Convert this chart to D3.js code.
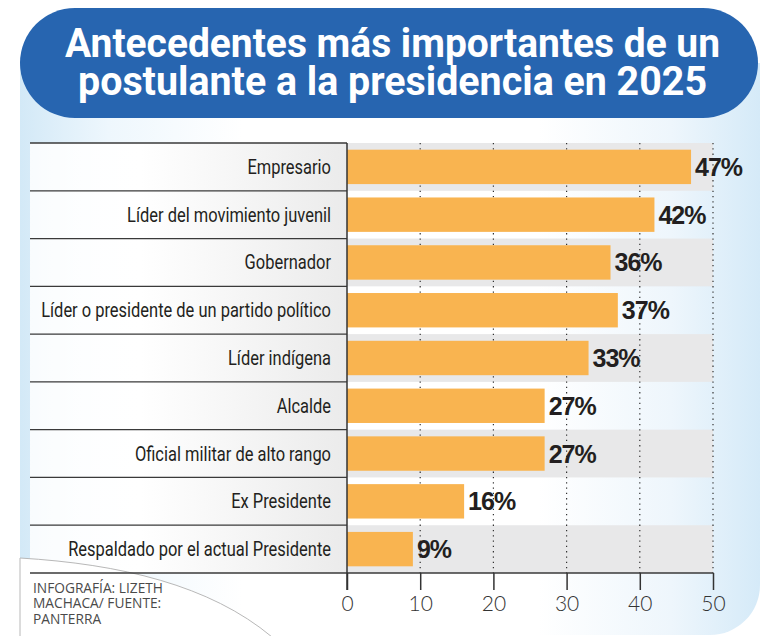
<!DOCTYPE html>
<html><head><meta charset="utf-8">
<script src="https://cdn.jsdelivr.net/npm/d3@7"></script>
<style>html,body{margin:0;padding:0;background:#fff;}svg{display:block;}</style>
</head><body>
<svg id="c" width="760" height="640"></svg>
<script>
const categories = ["Empresario","Líder del movimiento juvenil","Gobernador","Líder o presidente de un partido político","Líder indígena","Alcalde","Oficial militar de alto rango","Ex Presidente","Respaldado por el actual Presidente"];
const values = [47,42,36,37,33,27,27,16,9];
const tickValues = [0,10,20,30,40,50];
const titleLines = ["Antecedentes más importantes de un","postulante a la presidencia en 2025"];
const sourceLines = ["INFOGRAFÍA: LIZETH","MACHACA/ FUENTE:","PANTERRA"];

const svg = d3.select("#c");
const defs = svg.append("defs");

// background gradient
const bg = defs.append("linearGradient").attr("id","bg").attr("x1","0").attr("x2","1").attr("y1","0").attr("y2","0");
[[0,"#d3e9f7"],[0.12,"#eef7fd"],[0.3,"#ffffff"],[0.7,"#ffffff"],[0.88,"#eef6fc"],[1,"#d5eaf8"]].forEach(s=>bg.append("stop").attr("offset",s[0]).attr("stop-color",s[1]));
const rowG = defs.append("linearGradient").attr("id","rowg").attr("x1","0").attr("x2","1");
[[0,"#ffffff",0.85],[0.35,"#ffffff",1],[1,"#ebebeb",1]].forEach(s=>rowG.append("stop").attr("offset",s[0]).attr("stop-color",s[1]).attr("stop-opacity",s[2]));

// panel with rounded bottom-right corner
svg.append("path").attr("d","M20,63 H760 V585 A50,50 0 0 1 710,635 H20 Z").attr("fill","url(#bg)");

// title pill
svg.append("rect").attr("x",20).attr("y",8).attr("width",738).attr("height",110).attr("rx",55).attr("ry",55).attr("fill","#2765b0");
const tWidths=[655,629], tX=[65,78], tY=[57,95];
const title = svg.append("text").attr("font-family","Roboto, 'Liberation Sans', sans-serif").attr("font-weight","700")
    .attr("font-size",40).attr("fill","#fff");
titleLines.forEach((t,i)=>{
  title.append("tspan").text(t).attr("x",tX[i]).attr("y",tY[i])
    .attr("textLength",tWidths[i]).attr("lengthAdjust","spacingAndGlyphs");
});

// scales
const x = d3.scaleLinear().domain([0,50]).range([347,713]);
const y = d3.scaleBand().domain(categories).range([143,573]).padding(0);
const barH = y.bandwidth()*0.72;
const labelLeft = 30;

// row backgrounds
categories.forEach((c,i)=>{
  svg.append("rect").attr("x",labelLeft).attr("y",y(c)).attr("width",x(0)-labelLeft).attr("height",y.bandwidth()).attr("fill","url(#rowg)");
  if(i%2===0) svg.append("rect").attr("x",x(0)).attr("y",y(c)).attr("width",x(50)-x(0)).attr("height",y.bandwidth()).attr("fill","#e8e8e9");
});

// bottom-left source shape
svg.append("path").attr("d","M20,558 C120,564 210,585 272,637 L20,637 Z").attr("fill","#fff").attr("stroke","#b8b8b8").attr("stroke-width",1);
svg.append("rect").attr("x",0).attr("y",636).attr("width",760).attr("height",4).attr("fill","#fff");

// gridlines
svg.append("g").selectAll("line").data(tickValues.slice(1)).join("line")
  .attr("x1",d=>x(d)).attr("x2",d=>x(d)).attr("y1",143).attr("y2",573)
  .attr("stroke","#333").attr("stroke-width",1.2).attr("stroke-dasharray","1.3,4");

// row separator lines in label area
const bounds = categories.map(c=>y(c)).concat([573]);
svg.append("g").selectAll("line").data(bounds).join("line")
  .attr("x1",labelLeft).attr("x2",(d,i)=>i===bounds.length-1?x(50):x(0)).attr("y1",d=>d).attr("y2",d=>d)
  .attr("stroke","#3a3a3a").attr("stroke-width",1.3);

// bars
svg.append("g").selectAll("rect").data(values).join("rect")
  .attr("x",x(0)).attr("y",(d,i)=>y(categories[i])+(y.bandwidth()-barH)/2)
  .attr("width",d=>x(d)-x(0)).attr("height",barH).attr("fill","#f9b450");

// value labels
svg.append("g").selectAll("text").data(values).join("text")
  .text(d=>d+"%").attr("x",d=>x(d)+4).attr("y",(d,i)=>y(categories[i])+y.bandwidth()/2+9)
  .attr("font-family","'Liberation Sans', Arial, sans-serif").attr("font-weight","700")
  .attr("font-size",25).attr("letter-spacing",-1).attr("fill","#231f20");

// category labels (condensed by horizontal scale)
const lg = svg.append("g");
const labs = lg.selectAll("text").data(categories).join("text").text(d=>d)
  .attr("text-anchor","end").attr("font-family","Roboto, 'Open Sans', sans-serif")
  .attr("font-size",20.5).attr("fill","#231f20");
let maxW = 0; labs.each(function(){maxW=Math.max(maxW,this.getComputedTextLength());});
const k = 290/maxW;
labs.attr("transform",d=>`translate(331,${y(d)+y.bandwidth()/2+7}) scale(${k},1)`);

// axis
const axis = d3.axisBottom(x).tickValues(tickValues).tickSize(17).tickPadding(6).tickFormat(d3.format("d"));
const ag = svg.append("g").attr("transform","translate(0,573)").call(axis);
ag.select(".domain").remove();
ag.selectAll(".tick line").attr("stroke","#333").attr("stroke-width",1.5);
ag.selectAll(".tick text").attr("font-family","Lato, 'Open Sans', sans-serif").attr("font-weight","300").attr("font-size",21).attr("fill","#333");
// vertical axis line
svg.append("line").attr("x1",x(0)).attr("x2",x(0)).attr("y1",143).attr("y2",590).attr("stroke","#333").attr("stroke-width",1.5);

// source (one text block with lines as tspans)
const src = svg.append("text").attr("font-family","'Open Sans', sans-serif").attr("font-size",13).attr("fill","#4a4a4a")
  .attr("transform","translate(33,593) scale(1,1.12)");
const spans = src.selectAll("tspan").data(sourceLines).join("tspan").text(d=>d)
  .attr("x",0).attr("y",(d,i)=>i*13.8);
let sw = 0; spans.each(function(){sw=Math.max(sw,this.getComputedTextLength());});
const ks = 130/sw;
src.attr("transform",`translate(33,593) scale(${ks},1.12)`);
</script>
</body></html>
